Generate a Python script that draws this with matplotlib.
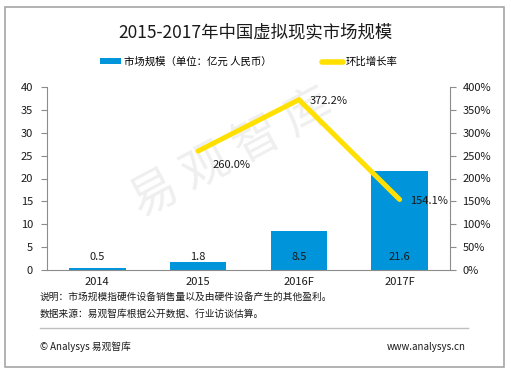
import matplotlib
matplotlib.use("Agg")
import matplotlib.pyplot as plt
from matplotlib.lines import Line2D
from matplotlib.patches import Rectangle, Patch

plt.rcParams['font.family'] = ['Noto Sans CJK SC', 'DejaVu Sans']

categories = ['2014', '2015', '2016F', '2017F']
market_size = [0.5, 1.8, 8.5, 21.6]
growth_idx = [1, 2, 3]
growth_rate = [260.0, 372.2, 154.1]
left_ticks = [0, 5, 10, 15, 20, 25, 30, 35, 40]
right_ticks = [0, 50, 100, 150, 200, 250, 300, 350, 400]

title = '2015-2017年中国虚拟现实市场规模'
bar_label = '市场规模（单位：亿元 人民币）'
line_label = '环比增长率'
note1 = '说明：市场规模指硬件设备销售量以及由硬件设备产生的其他盈利。'
note2 = '数据来源：易观智库根据公开数据、行业访谈估算。'

W, H = 511, 375
fig = plt.figure(figsize=(W/100, H/100), dpi=100)
fig.patch.set_facecolor('white')

# outer border
fig.add_artist(Rectangle((5/W, 1-367/H), 499/W, 360/H, transform=fig.transFigure,
                         fill=False, edgecolor='#a6a6a6', linewidth=1.2))

# watermark (behind axes)
fig.text(232/W, 1-155/H, '易 观 智 库', fontsize=34, color='#efefef', rotation=28,
         ha='center', va='center', zorder=-5)

ax = fig.add_axes([47/W, 1-270/H, (450-47)/W, (270-87)/H])
ax2 = ax.twinx()
ax.set_facecolor('none')
ax2.set_facecolor('none')

blue = '#0095da'
yellow = '#ffe000'
grey = '#8c8c8c'

x = list(range(len(categories)))
ax.bar(x, market_size, width=0.56, color=blue, zorder=2)
ax.set_xlim(-0.5, 3.5)
ax.set_ylim(0, 40)
ax.set_yticks(left_ticks)
ax.set_xticks(x)
ax.set_xticklabels(categories)

for i, v in enumerate(market_size):
    ax.text(i, 2.9, f'{v}', ha='center', va='center', fontsize=8, color='#1a1a1a', zorder=5)

ax2.plot(growth_idx, growth_rate, color=yellow, linewidth=3.6, solid_capstyle='round',
         solid_joinstyle='miter', zorder=3)
ax2.set_ylim(0, 400)
ax2.set_yticks(right_ticks)
ax2.set_yticklabels([f'{t}%' for t in right_ticks])

offsets = [(0.14, -30), (0.11, -2), (0.10, -3)]
for (i, v), (dx, dy) in zip(zip(growth_idx, growth_rate), offsets):
    ax2.text(i + dx, v + dy, f'{v:.1f}%', ha='left', va='center',
             fontsize=8, color='#1a1a1a', zorder=5)

for a in (ax, ax2):
    a.spines['top'].set_visible(False)
    for s in ('left', 'right', 'bottom'):
        a.spines[s].set_color(grey)
    a.tick_params(axis='y', colors=grey, labelcolor='#1a1a1a', labelsize=8, length=4, pad=6)
ax.tick_params(axis='x', length=0, labelsize=8, labelcolor='#1a1a1a', pad=5)
ax.spines['right'].set_visible(False)
ax2.spines['left'].set_visible(False)
ax2.spines['bottom'].set_visible(False)
ax2.tick_params(axis='y', pad=5)

fig.text(0.5, 1-32/H, title, ha='center', va='center', fontsize=12.5, color='#1a1a1a')

handles = [Patch(facecolor=blue, edgecolor='none'),
           Line2D([0], [0], color=yellow, linewidth=4, solid_capstyle='round')]
fig.legend(handles, [bar_label, line_label], loc='center', bbox_to_anchor=(249/W, 1-62/H),
           ncol=2, frameon=False, fontsize=7.5, handlelength=2.0, handleheight=0.5,
           columnspacing=4.8, handletextpad=0.3)

fig.text(40/W, 1-297/H, note1, ha='left', va='center', fontsize=7, color='#1a1a1a')
fig.text(40/W, 1-314/H, note2, ha='left', va='center', fontsize=7, color='#1a1a1a')
fig.add_artist(Line2D([40/W, 468/W], [1-328/H, 1-328/H], transform=fig.transFigure,
                      color='#bfbfbf', linewidth=1))
fig.text(40/W, 1-347/H, '© Analysys 易观智库', ha='left', va='center', fontsize=7, color='#1a1a1a')
fig.text(466/W, 1-347/H, 'www.analysys.cn', ha='right', va='center', fontsize=7, color='#1a1a1a')

fig.savefig('out.png', dpi=100)
